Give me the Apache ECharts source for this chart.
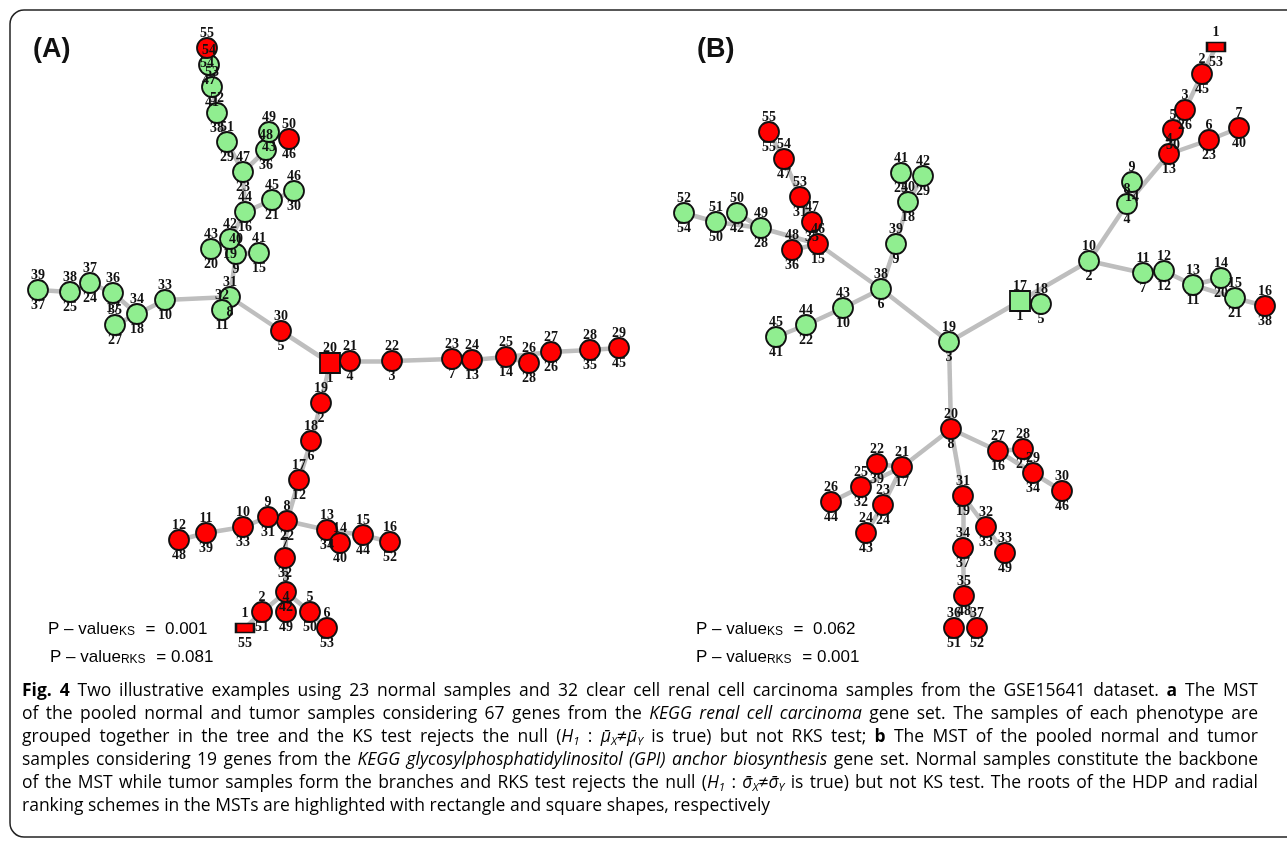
<!DOCTYPE html>
<html>
  <head>
    <meta charset="utf-8">
    <title>MST examples</title>
    <script src="https://cdn.jsdelivr.net/npm/echarts@6/dist/echarts.min.js"></script>
    <style>
    html,body{
      height:100%;
      width:100%;
      margin:0px;
      background:#fff;
    }
    #chartDiv{
      width:1287px;
      height:843px;
    }
    </style>
  </head>
  <body>
    <div id="chartDiv"></div>
    <script type="text/javascript">
    // panel A: HDP rank (label above), radial rank (label below), layout position, tumor flag
    var aRank   = [1,2,3,4,5,6,7,8,9,10,11,12,13,14,15,16,17,18,19,20,21,22,23,24,25,26,27,28,29,30,31,32,33,34,35,36,37,38,39,40,41,42,43,44,45,46,47,48,49,50,51,52,53,54,55];
    var aRadial = [55,51,42,49,50,53,32,22,31,33,39,48,34,40,44,52,12,6,2,1,4,3,7,13,14,28,26,35,45,5,8,11,10,18,27,17,24,25,37,9,15,19,20,16,21,30,23,36,43,46,29,38,41,47,54];
    var aX = [245,262,286,286,310,327,285,287,268,243,206,179,327,340,363,390,299,311,321,330,350,392,452,472,506,529,551,590,619,281,230,222,165,137,115,113,90,70,38,236,259,230,211,245,272,294,243,266,269,289,227,217,212,209,207];
    var aY = [628,612,592,612,612,628,558,521,517,527,533,540,530,543,535,542,480,441,403,363,361,361,359,360,357,363,352,350,348,331,297,310,300,314,325,293,283,292,290,254,253,239,249,212,200,191,172,150,132,139,142,113,87,65,48];
    var aTumor = [1,1,1,1,1,1,1,1,1,1,1,1,1,1,1,1,1,1,1,1,1,1,1,1,1,1,1,1,1,1,0,0,0,0,0,0,0,0,0,0,0,0,0,0,0,0,0,0,0,1,0,0,0,0,1];
    var aEdges = [[20,21],[21,22],[22,23],[23,24],[24,25],[25,26],[25,27],[27,28],[28,29],[20,30],[30,31],[31,32],[31,33],[33,34],[34,36],[34,35],[36,37],[37,38],[38,39],[31,40],[40,42],[42,43],[40,41],[42,44],[44,45],[45,46],[44,47],[47,48],[48,49],[49,50],[47,51],[51,52],[52,53],[53,54],[54,55],[20,19],[19,18],[18,17],[17,8],[8,9],[9,10],[10,11],[11,12],[8,13],[13,14],[13,15],[15,16],[8,7],[7,3],[3,4],[3,2],[3,5],[2,1],[5,6]];
    var aHdpRoot = 1, aRadialRoot = 20;
    var aPvalues = ['0.001', '0.081'];

    // panel B
    var bRank   = [1,2,3,4,5,6,7,8,9,10,11,12,13,14,15,16,17,18,19,20,21,22,23,24,25,26,27,28,29,30,31,32,33,34,35,36,37,38,39,40,41,42,43,44,45,46,47,48,49,50,51,52,53,54,55];
    var bRadial = [53,45,26,13,30,23,40,4,14,2,7,12,11,20,21,38,1,5,3,8,17,39,24,43,32,44,16,27,34,46,19,33,49,37,48,51,52,6,9,18,25,29,10,22,41,15,35,36,28,42,50,54,31,47,55];
    var bX = [1216,1202,1185,1169,1173,1209,1239,1127,1132,1089,1143,1164,1193,1221,1235,1265,1020,1041,949,951,902,877,883,866,861,831,998,1023,1033,1062,963,986,1005,963,964,954,977,881,896,908,901,923,843,806,776,818,812,792,761,737,716,684,800,784,769];
    var bY = [47,74,110,154,130,140,128,204,182,261,273,271,285,278,298,306,301,304,342,429,467,464,505,533,487,502,451,449,473,491,496,527,553,548,596,628,628,289,244,202,173,176,308,325,337,244,222,250,228,213,222,213,197,159,132];
    var bTumor = [1,1,1,1,1,1,1,0,0,0,0,0,0,0,0,1,0,0,0,1,1,1,1,1,1,1,1,1,1,1,1,1,1,1,1,1,1,0,0,0,0,0,0,0,0,1,1,1,0,0,0,0,1,1,1];
    var bEdges = [[1,2],[2,3],[3,5],[5,4],[4,6],[6,7],[4,8],[8,9],[8,10],[10,17],[17,18],[17,19],[10,11],[11,12],[12,13],[13,14],[13,15],[15,16],[19,20],[20,21],[21,22],[21,25],[25,26],[21,23],[23,24],[20,27],[27,28],[27,29],[29,30],[20,31],[31,32],[32,33],[31,34],[34,35],[35,36],[35,37],[19,38],[38,39],[39,40],[40,41],[40,42],[38,43],[43,44],[44,45],[38,46],[46,48],[46,49],[49,50],[49,51],[51,52],[46,47],[47,53],[53,54],[54,55]];
    var bHdpRoot = 1, bRadialRoot = 17;
    var bPvalues = ['0.062', '0.001'];

    var captionLines = [
      '{b|Fig. 4} Two illustrative examples using 23 normal samples and 32 clear cell renal cell carcinoma samples from the GSE15641 dataset. {b|a} The MST',
      'of the pooled normal and tumor samples considering 67 genes from the {i|KEGG renal cell carcinoma} gene set. The samples of each phenotype are',
      'grouped together in the tree and the KS test rejects the null ({i|H}{s|1} : {i|\u03bc\u0304}{s|X}\u2260{i|\u03bc\u0304}{s|Y} is true) but not RKS test; {b|b} The MST of the pooled normal and tumor',
      'samples considering 19 genes from the {i|KEGG glycosylphosphatidylinositol (GPI) anchor biosynthesis} gene set. Normal samples constitute the backbone',
      'of the MST while tumor samples form the branches and RKS test rejects the null ({i|H}{s|1} : {i|\u03c3\u0304}{s|X}\u2260{i|\u03c3\u0304}{s|Y} is true) but not KS test. The roots of the HDP and radial',
      'ranking schemes in the MSTs are highlighted with rectangle and square shapes, respectively'
    ];

    var NORMAL = '#90ee90', TUMOR = '#ff0000';

    function buildNodes(p, rank, radial, xs, ys, tumor, hdpRoot, radialRoot){
      return rank.map(function(r, i){
        var node = {
          name: p + r,
          value: [xs[i], ys[i]],
          top: r,
          bot: radial[i],
          itemStyle: {color: tumor[i] ? TUMOR : NORMAL}
        };
        if (r === hdpRoot){ node.symbol = 'rect'; node.symbolSize = [18, 9]; }
        if (r === radialRoot){ node.symbol = 'rect'; node.symbolSize = [20, 20]; }
        return node;
      });
    }
    function buildLinks(p, edges){
      return edges.map(function(e){ return {source: p + e[0], target: p + e[1]}; });
    }

    var labelFont = 'Liberation Serif';
    function graphSeries(nodes, links){
      return {
        type: 'graph',
        coordinateSystem: 'cartesian2d',
        silent: true,
        symbol: 'circle',
        symbolSize: 20,
        data: nodes,
        links: links,
        lineStyle: {color: '#bebebe', width: 4.5, opacity: 1, curveness: 0},
        itemStyle: {borderColor: '#111', borderWidth: 1.8},
        label: {
          show: true,
          position: 'inside',
          formatter: function(p){
            return '{t|' + p.data.top + '}\n{g| }\n{t|' + p.data.bot + '}';
          },
          rich: {
            t: {fontFamily: labelFont, fontWeight: 'bold', fontSize: 14, lineHeight: 14, color: '#111'},
            g: {fontSize: 8, lineHeight: 16}
          }
        },
        emphasis: {disabled: true}
      };
    }

    function pText(x, y, sub, val){
      return {
        type: 'text', left: x, top: y, silent: true,
        style: {
          text: '{n|P \u2013 value}{s|' + sub + '}{n| = ' + val + '}',
          rich: {
            n: {fontFamily: 'Liberation Sans', fontSize: 17, color: '#111', verticalAlign: 'bottom', lineHeight: 20},
            s: {fontFamily: 'Liberation Sans', fontSize: 12, color: '#111', verticalAlign: 'bottom', lineHeight: 14, padding: [0, 6, 0, 0]}
          }
        }
      };
    }

    // caption: justified lines, one text element per word
    var capFont = 'Open Sans', capSize = 17.5, capColor = '#231f20';
    var capStyles = {
      n: {fontSize: capSize, fontWeight: 'normal', fontStyle: 'normal'},
      b: {fontSize: capSize, fontWeight: 'bold', fontStyle: 'normal'},
      i: {fontSize: capSize, fontWeight: 'normal', fontStyle: 'italic'},
      s: {fontSize: 11.5, fontWeight: 'normal', fontStyle: 'italic', padding: [9, 0, 0, 0]}
    };
    var capRich = {};
    Object.keys(capStyles).forEach(function(k){
      var s = capStyles[k];
      capRich[k] = {fontFamily: capFont, fontSize: s.fontSize, fontWeight: s.fontWeight, fontStyle: s.fontStyle,
                    color: capColor, lineHeight: 22, padding: s.padding};
    });
    var measureCtx = document.createElement('canvas').getContext('2d');
    function segWidth(seg){
      var s = capStyles[seg.s];
      measureCtx.font = s.fontStyle + ' ' + s.fontWeight + ' ' + s.fontSize + 'px "' + capFont + '"';
      return measureCtx.measureText(seg.t).width;
    }
    function splitWords(line){
      var re = /\{(\w)\|([^}]*)\}|([^{]+)/g, m, words = [], cur = [];
      while ((m = re.exec(line))){
        var style = m[1] || 'n', text = m[1] ? m[2] : m[3];
        text.split(' ').forEach(function(part, j){
          if (j > 0 && cur.length){ words.push(cur); cur = []; }
          if (part) cur.push({s: style, t: part});
        });
      }
      if (cur.length) words.push(cur);
      return words;
    }
    function captionElements(x0, x1, y0, dy){
      var els = [];
      captionLines.forEach(function(line, li){
        var words = splitWords(line);
        var widths = words.map(function(w){
          return w.reduce(function(a, seg){ return a + segWidth(seg); }, 0);
        });
        var total = widths.reduce(function(a, b){ return a + b; }, 0);
        var gap = segWidth({s: 'n', t: ' '});
        if (li < captionLines.length - 1) gap = (x1 - x0 - total) / (words.length - 1);
        var x = x0;
        words.forEach(function(w, wi){
          els.push({
            type: 'text', x: x, y: y0 + li * dy, silent: true,
            style: {
              text: w.map(function(seg){ return '{' + seg.s + '|' + seg.t + '}'; }).join(''),
              rich: capRich, verticalAlign: 'middle', align: 'left'
            }
          });
          x += widths[wi] + gap;
        });
      });
      return els;
    }

    var graphics = [
      {type: 'rect', silent: true, shape: {x: 10, y: 10, width: 1300, height: 827, r: 14},
       style: {fill: 'none', stroke: '#222', lineWidth: 1.5}},
      {type: 'text', left: 33, top: 36, silent: true,
       style: {text: '(A)', fontFamily: 'Liberation Sans', fontWeight: 'bold', fontSize: 27, fill: '#111'}},
      {type: 'text', left: 697, top: 36, silent: true,
       style: {text: '(B)', fontFamily: 'Liberation Sans', fontWeight: 'bold', fontSize: 27, fill: '#111'}},
      pText(48, 621, 'KS', ' ' + aPvalues[0]),
      pText(50, 649, 'RKS', aPvalues[1]),
      pText(696, 621, 'KS', ' ' + bPvalues[0]),
      pText(696, 649, 'RKS', bPvalues[1])
    ].concat(captionElements(22, 1258, 691, 23));

    var option = {
      animation: false,
      backgroundColor: '#fff',
      grid: {left: 0, right: 0, top: 0, bottom: 0},
      xAxis: {type: 'value', min: 0, max: 1287, show: false},
      yAxis: {type: 'value', min: 0, max: 843, inverse: true, show: false},
      graphic: graphics,
      series: [
        graphSeries(buildNodes('a', aRank, aRadial, aX, aY, aTumor, aHdpRoot, aRadialRoot), buildLinks('a', aEdges)),
        graphSeries(buildNodes('b', bRank, bRadial, bX, bY, bTumor, bHdpRoot, bRadialRoot), buildLinks('b', bEdges))
      ]
    };

    var chart = echarts.init(document.getElementById('chartDiv'));
    chart.setOption(option);
    </script>
  </body>
</html>
